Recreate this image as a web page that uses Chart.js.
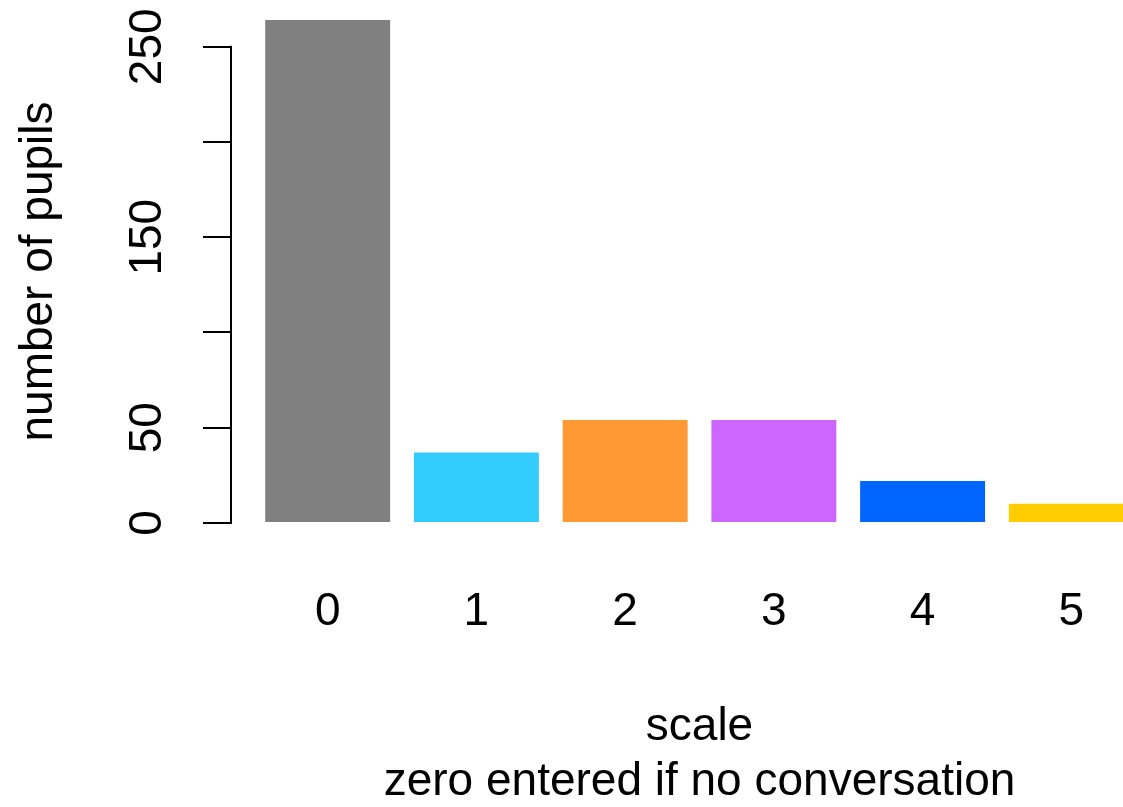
<!DOCTYPE html>
<html>
<head>
<meta charset="utf-8">
<title>number of pupils by scale</title>
<script src="https://cdn.jsdelivr.net/npm/chart.js@4.4.1/dist/chart.umd.min.js"></script>
<style>
    html, body { margin: 0; padding: 0; background: #fff; overflow: hidden; }
    /* plot region runs past the right edge, like the original export */
    #wrap { width: 1123px; height: 807px; overflow: hidden; }
    canvas { display: block; }
</style>
</head>
<body>
<div id="wrap"><canvas id="scale-chart" width="1168" height="807"></canvas></div>
<script>
// Data
const categories = ['0', '1', '2', '3', '4', '5'];
const pupils = [264, 37, 54, 54, 22, 10];
const barColors = ['#808080', '#33CCFF', '#FF9933', '#CC66FF', '#0066FF', '#FFCC00'];

// Axis ticks (100 and 200 get a tick mark but no label, as in the original)
const yTickValues = [0, 50, 100, 150, 200, 250];
const yTickLabels = [0, 50, 150, 250];

const xTitle = ['scale', 'zero entered if no conversation'];
const yTitle = 'number of pupils';

const FONT_FAMILY = '"Liberation Sans", Arial, sans-serif';
const FONT_SIZE = 46;

Chart.defaults.font.family = FONT_FAMILY;
Chart.defaults.color = '#000';

/**
 * Draws the R-style y axis: a line from the first to the last tick
 * and labels rotated to read bottom to top.
 */
const rAxisPlugin = {
    id: 'rAxis',
    afterDraw(chart) {
        const ctx = chart.ctx;
        const yScale = chart.scales.y;
        const x = chart.chartArea.left;

        ctx.save();
        ctx.strokeStyle = '#000';
        ctx.lineWidth = 2;
        ctx.beginPath();
        ctx.moveTo(x, yScale.getPixelForValue(yTickValues[0]) + 1);
        ctx.lineTo(x, yScale.getPixelForValue(yTickValues[yTickValues.length - 1]) - 1);
        ctx.stroke();

        ctx.fillStyle = '#000';
        ctx.font = FONT_SIZE + 'px ' + FONT_FAMILY;
        ctx.textAlign = 'center';
        ctx.textBaseline = 'middle';
        yTickLabels.forEach(v => {
            ctx.save();
            ctx.translate(148, yScale.getPixelForValue(v));
            ctx.rotate(-Math.PI / 2);
            ctx.fillText(String(v), 0, 0);
            ctx.restore();
        });
        ctx.restore();
    }
};

const ctx = document.getElementById('scale-chart');

new Chart(ctx, {
    type: 'bar',
    data: {
        datasets: [{
            data: pupils.map((v, i) => ({ x: i, y: v })),
            backgroundColor: barColors,
            borderWidth: 0,
            barPercentage: 0.84,
            categoryPercentage: 1
        }]
    },
    options: {
        responsive: false,
        animation: false,
        layout: { padding: 0 },
        scales: {
            x: {
                type: 'linear',
                offset: false,
                min: -0.65,
                max: 5.65,
                grid: { display: false, drawTicks: false },
                border: { display: false },
                ticks: {
                    stepSize: 1,
                    autoSkip: false,
                    maxRotation: 0,
                    includeBounds: false,
                    padding: 41.4,
                    font: { size: FONT_SIZE },
                    callback: value => categories[value] ?? ''
                },
                title: {
                    display: true,
                    text: xTitle,
                    font: { size: FONT_SIZE },
                    padding: { top: 18.4, bottom: -2.8 }
                }
            },
            y: {
                min: -10.56,
                max: 274.56,
                grid: {
                    drawOnChartArea: false,
                    drawTicks: true,
                    tickLength: 28,
                    color: '#000',
                    lineWidth: 2
                },
                border: { display: false },
                ticks: {
                    display: false,
                    stepSize: 50,
                    includeBounds: false
                },
                title: {
                    display: true,
                    text: yTitle,
                    font: { size: FONT_SIZE },
                    padding: { top: 11.4, bottom: 136.4 }
                }
            }
        },
        plugins: {
            legend: { display: false },
            tooltip: { enabled: false }
        }
    },
    plugins: [rAxisPlugin]
});
</script>
</body>
</html>
